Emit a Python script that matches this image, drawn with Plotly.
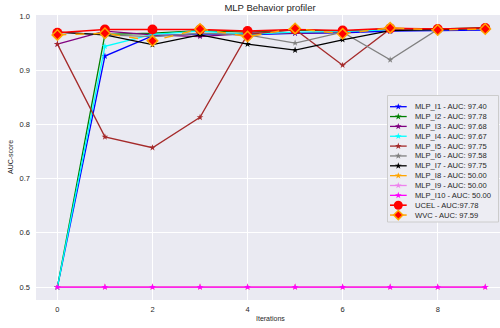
import plotly.graph_objects as go

iterations = list(range(10))

series_names = ["MLP_I1 - AUC: 97.40", "MLP_I2 - AUC: 97.78", "MLP_I3 - AUC: 97.68",
                "MLP_I4 - AUC: 97.67", "MLP_I5 - AUC: 97.75", "MLP_I6 - AUC: 97.58",
                "MLP_I7 - AUC: 97.75", "MLP_I8 - AUC: 50.00", "MLP_I9 - AUC: 50.00",
                "MLP_I10 - AUC: 50.00"]
series_colors = ["blue", "green", "purple", "cyan", "brown", "gray", "black",
                 "orange", "violet", "magenta"]

mlp_i1 = [0.500, 0.926, 0.963, 0.967, 0.965, 0.968, 0.969, 0.972, 0.973, 0.974]
mlp_i2 = [0.500, 0.966, 0.968, 0.973, 0.970, 0.974, 0.972, 0.976, 0.976, 0.9778]
mlp_i3 = [0.948, 0.972, 0.965, 0.962, 0.968, 0.968, 0.970, 0.975, 0.975, 0.9768]
mlp_i4 = [0.500, 0.944, 0.966, 0.972, 0.966, 0.970, 0.971, 0.975, 0.975, 0.9767]
mlp_i5 = [0.948, 0.777, 0.757, 0.813, 0.966, 0.975, 0.909, 0.976, 0.976, 0.9775]
mlp_i6 = [0.970, 0.965, 0.962, 0.968, 0.965, 0.950, 0.970, 0.919, 0.975, 0.9758]
mlp_i7 = [0.970, 0.965, 0.947, 0.965, 0.948, 0.937, 0.956, 0.973, 0.975, 0.9775]
mlp_i8 = [0.5] * 10
mlp_i9 = [0.5] * 10
mlp_i10 = [0.5] * 10
mlp_series = [mlp_i1, mlp_i2, mlp_i3, mlp_i4, mlp_i5, mlp_i6, mlp_i7, mlp_i8, mlp_i9, mlp_i10]

ucel_name = "UCEL - AUC:97.78"
ucel = [0.969, 0.975, 0.975, 0.975, 0.972, 0.975, 0.973, 0.977, 0.976, 0.9778]
wvc_name = "WVC - AUC: 97.59"
wvc = [0.965, 0.968, 0.954, 0.976, 0.962, 0.977, 0.967, 0.978, 0.974, 0.9759]

x_ticks = [0, 2, 4, 6, 8]
y_ticks = [0.5, 0.6, 0.7, 0.8, 0.9, 1.0]

FONT = "Liberation Sans, Arial, sans-serif"
TXT = "#262626"
W, H = 500, 328
ML, MR, MT, MB = 36, 0, 15, 28
PW, PH = W - ML - MR, H - MT - MB


def px_to_paper_x(px):
    return (px - ML) / PW


def px_to_paper_y(py):
    return (H - MB - py) / PH


fig = go.Figure()

for name, col, ys in zip(series_names, series_colors, mlp_series):
    fig.add_trace(go.Scatter(x=iterations, y=ys, mode="lines+markers", name=name,
                             line=dict(color=col, width=1.3),
                             marker=dict(symbol="star", size=5, color=col),
                             showlegend=False))

fig.add_trace(go.Scatter(x=iterations, y=ucel, mode="lines+markers", name=ucel_name,
                         line=dict(color="red", width=1.6),
                         marker=dict(symbol="circle", size=10, color="red"),
                         showlegend=False))
fig.add_trace(go.Scatter(x=iterations, y=wvc, mode="lines+markers", name=wvc_name,
                         line=dict(color="orange", width=1.5, dash="dash"),
                         marker=dict(symbol="diamond", size=8, color="red",
                                     line=dict(color="orange", width=1.5)),
                         showlegend=False))

# ---- custom legend drawn on an overlay axis measured in pixels ----
L_x0, L_x1, L_y0, L_y1 = 387.5, 498.5, 95.5, 222
fig.add_trace(go.Scatter(x=[L_x0, L_x1, L_x1, L_x0, L_x0], y=[L_y0, L_y0, L_y1, L_y1, L_y0],
                         mode="lines", fill="toself", fillcolor="rgba(236,236,243,0.97)",
                         line=dict(color="#cccccc", width=1), xaxis="x2", yaxis="y2",
                         showlegend=False, hoverinfo="skip"))

leg_names = series_names + [ucel_name, wvc_name]
annotations = []
for i, name in enumerate(leg_names):
    yy = 106.7 + 9.85 * i
    if i < 10:
        col = series_colors[i]
        line = dict(color=col, width=1.3)
        marker = dict(symbol="star", size=5, color=col)
    elif i == 10:
        line = dict(color="red", width=1.6)
        marker = dict(symbol="circle", size=9, color="red")
    else:
        line = dict(color="orange", width=1.5)
        marker = dict(symbol="diamond", size=7, color="red", line=dict(color="orange", width=1.5))
    fig.add_trace(go.Scatter(x=[390, 406.7], y=[yy, yy], mode="lines", line=line,
                             xaxis="x2", yaxis="y2", showlegend=False, hoverinfo="skip"))
    fig.add_trace(go.Scatter(x=[398.3], y=[yy], mode="markers", marker=marker,
                             xaxis="x2", yaxis="y2", showlegend=False, hoverinfo="skip"))
    annotations.append(dict(x=413, y=yy, xref="x2", yref="y2", text=name, showarrow=False,
                            xanchor="left", yanchor="middle",
                            font=dict(family=FONT, size=7.6, color=TXT)))

# axis titles
annotations.append(dict(x=px_to_paper_x(270), y=px_to_paper_y(318), xref="paper", yref="paper",
                        text="Iterations", showarrow=False, xanchor="center", yanchor="middle",
                        font=dict(family=FONT, size=7, color=TXT)))
annotations.append(dict(x=px_to_paper_x(10), y=px_to_paper_y(157), xref="paper", yref="paper",
                        text="AUC-score", textangle=-90, showarrow=False,
                        xanchor="center", yanchor="middle",
                        font=dict(family=FONT, size=7, color=TXT)))

fig.update_layout(
    width=W, height=H,
    margin=dict(l=ML, r=MR, t=MT, b=MB, autoexpand=False),
    paper_bgcolor="white", plot_bgcolor="#EAEAF2",
    title=dict(text="MLP Behavior profiler", x=270 / W, xanchor="center", xref="container",
               y=1 - 7.5 / H, yanchor="middle", yref="container",
               font=dict(family=FONT, size=9.5, color=TXT)),
    xaxis=dict(range=[-0.45, 9.31], tickvals=x_ticks, showgrid=True, gridcolor="white",
               gridwidth=1, zeroline=False, showline=False, ticks="", automargin=False,
               ticklabelstandoff=3,
               tickfont=dict(family=FONT, size=7.5, color=TXT)),
    yaxis=dict(range=[0.4761, 1.0017], tickvals=y_ticks, tickformat=".1f", showgrid=True,
               gridcolor="white", gridwidth=1, zeroline=False, showline=False, ticks="",
               automargin=False, ticklabelstandoff=5,
               tickfont=dict(family=FONT, size=7.5, color=TXT)),
    xaxis2=dict(range=[ML, W - MR], overlaying="x", anchor="y2", visible=False, fixedrange=True),
    yaxis2=dict(range=[H - MB, MT], overlaying="y", anchor="x2", visible=False, fixedrange=True),
    annotations=annotations,
    showlegend=False,
)

fig.write_html("out.html", config={"displayModeBar": False},
               post_script="document.body.style.margin='0';document.body.style.overflow='hidden';")
